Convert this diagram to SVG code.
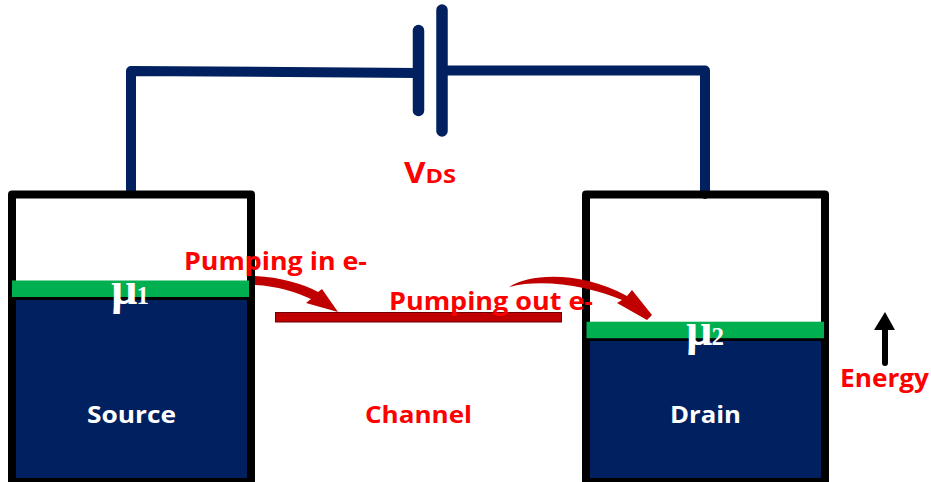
<svg xmlns="http://www.w3.org/2000/svg" width="931" height="482" viewBox="0 0 931 482">
<style>
.wire{fill:none;stroke:#002060;stroke-width:10;stroke-linejoin:round;stroke-linecap:round}
.plate{fill:none;stroke:#002060;stroke-width:11.500;stroke-linecap:round}
.box{fill:none;stroke:#000;stroke-width:8;stroke-linejoin:round}
.navy{fill:#002060}
.green{fill:#00b050}
.rd{fill:#c00000}
.blk{fill:#000}
.sans{font-family:"Open Sans","Liberation Sans",sans-serif;font-weight:700}
.red{fill:#ff0000}
.white{fill:#fff}
.mu{font-family:"Liberation Serif",serif;font-weight:700;fill:#fff}
</style>
<g id="connectors">
<path class="wire" d="M131 190V71L418 73"/>
<path class="wire" d="M442 70.500H705V194"/>
</g>
<g id="battery">
<path class="plate" d="M418.500 30.500V110.500"/>
<path class="plate" d="M442 10V131"/>
</g>
<g id="vds"><text class="sans red" x="404" y="183" font-size="28" textLength="52" lengthAdjust="spacingAndGlyphs">V<tspan font-size="20">DS</tspan></text></g>
<g id="source">
<rect class="navy" x="12" y="298" width="238" height="182"/>
<path class="box" d="M12 486V194.500H251V486M12 482H251"/>
<rect class="blk" x="12" y="296" width="238" height="4"/>
<rect class="green" x="12" y="280.500" width="237" height="16.500"/>
<text class="sans white" x="87" y="423" font-size="24" textLength="89" lengthAdjust="spacingAndGlyphs">Source</text>
<text class="mu" x="111" y="304" font-size="46">µ<tspan font-size="25" dx="-1">1</tspan></text>
</g>
<g id="drain">
<rect class="navy" x="586" y="340" width="238" height="140"/>
<path class="box" d="M586 486V194.500H825V486M586 482H825"/>
<rect class="blk" x="586" y="337" width="238" height="4"/>
<rect class="green" x="586.500" y="321.700" width="237.500" height="16.500"/>
<text class="sans white" x="670" y="423" font-size="24" textLength="71" lengthAdjust="spacingAndGlyphs">Drain</text>
<text class="mu" x="686" y="345" font-size="46">µ<tspan font-size="25" dx="-1">2</tspan></text>
</g>
<g id="channel">
<rect class="rd" x="275.500" y="312.500" width="286" height="9.500" stroke="#700000" stroke-width="1"/>
<text class="sans red" x="365" y="423" font-size="24" textLength="107" lengthAdjust="spacingAndGlyphs">Channel</text>
</g>
<g id="pump-in">
<path class="rd" d="M255 276C280 277 304 284 318 292L322 289L338 312L306 303L311 299C296 292 277 286 255 285Z"/>
<text class="sans red" x="184" y="270" font-size="25" textLength="183" lengthAdjust="spacingAndGlyphs">Pumping in e-</text>
</g>
<g id="pump-out">
<path class="rd" d="M509 287C530 273 582 271 627 296L632 290L652 315L647 320L617 303L622 300C590 287 545 278 509 287Z"/>
<text class="sans red" x="389" y="310" font-size="25" textLength="204" lengthAdjust="spacingAndGlyphs">Pumping out e-</text>
</g>
<g id="energy">
<path d="M885 330V363" fill="none" stroke="#000" stroke-width="6" stroke-linecap="round"/>
<path d="M885 312L895 330H874Z" fill="#000"/>
<text class="sans red" x="840" y="387" font-size="25" textLength="89" lengthAdjust="spacingAndGlyphs">Energy</text>
</g>
</svg>
